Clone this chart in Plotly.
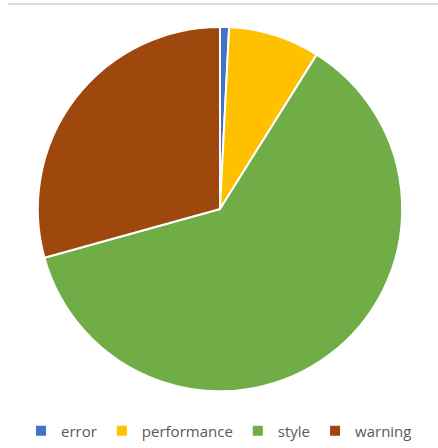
import plotly.graph_objects as go

categories = ["error", "performance", "style", "warning"]
values = [0.8, 8.1, 61.8, 29.3]
colors = ["#4472C4", "#FFC000", "#70AD47", "#9E480E"]

W, H = 438, 448
cx, cy, r = 220, 210, 183

fig = go.Figure(go.Pie(
    labels=categories,
    values=values,
    sort=False,
    direction="clockwise",
    rotation=0,
    textinfo="none",
    hoverinfo="label+percent",
    marker=dict(colors=colors, line=dict(color="white", width=2)),
    domain=dict(x=[(cx - r) / W, (cx + r) / W], y=[(H - cy - r) / H, (H - cy + r) / H]),
))

fig.update_layout(
    width=W, height=H,
    margin=dict(l=0, r=0, t=0, b=0),
    paper_bgcolor="white",
    showlegend=True,
    legend=dict(
        orientation="h",
        x=0.5, xanchor="center",
        y=(H - 433) / H, yanchor="middle",
        font=dict(family="Open Sans", size=15, color="#595959"),
        itemwidth=30,
        tracegroupgap=0,
    ),
    shapes=[dict(type="line", xref="paper", yref="paper",
                 x0=8 / W, x1=1, y0=(H - 4) / H, y1=(H - 4) / H,
                 line=dict(color="#d0d0d0", width=1.5))],
)

fig.write_html("out.html", config={"displayModeBar": False},
               post_script="document.body.style.margin='0';document.body.style.padding='0';")
